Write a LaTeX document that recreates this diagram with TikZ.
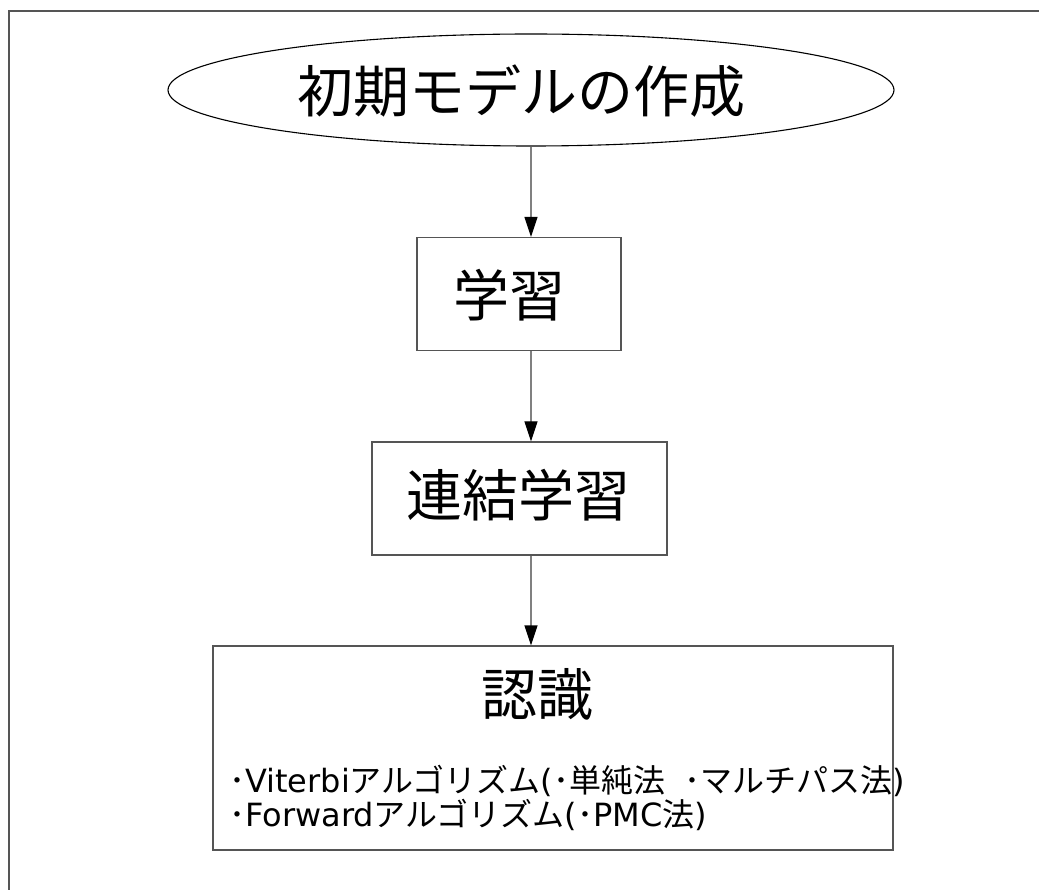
\documentclass[tikz,border=0pt]{standalone}
\usepackage{fontspec}
\setmainfont{DejaVu Sans}
\newfontfamily\jp{Noto Sans CJK JP}
\usetikzlibrary{shapes.geometric,arrows.meta}
\definecolor{linegray}{HTML}{808080}
\definecolor{boxgray}{HTML}{555555}
\tikzset{
  stepbox/.style={draw=boxgray, line width=1.2pt, rectangle, inner sep=0pt},
  bigtext/.style={font=\jp\fontsize{56}{60}\selectfont, inner sep=0pt},
  smalltext/.style={font=\fontsize{32}{36}\selectfont, inner sep=0pt, anchor=base west},
  arr/.style={draw=linegray, line width=1.2pt, -{Triangle[length=20pt,width=13pt,black]}},
}
\begin{document}
\begin{tikzpicture}[x=1pt,y=-1pt]
\useasboundingbox (0,0) rectangle (1039,890);
\begin{scope}
\clip (0,0) rectangle (1039,890);
\draw[draw=boxgray, line width=1.4pt] (9,11) rectangle (1080,930);
\end{scope}
% ellipse
\node[draw=black, line width=1.1pt, ellipse, minimum width=726pt, minimum height=112pt, inner sep=0pt] (init) at (531,90) {};
\node[bigtext] (initt) at (521,91) {初期モデルの作成};
% boxes
\node[stepbox, minimum width=204pt, minimum height=113pt] (learn) at (519,294) {};
\node[bigtext] (learnt) at (509,295) {学習};
\node[stepbox, minimum width=295pt, minimum height=113pt] (concat) at (519.5,498.5) {};
\node[bigtext] (concatt) at (518,495) {連結学習};
\node[stepbox, minimum width=680pt, minimum height=204pt] (recog) at (553,748) {};
\node[bigtext] (recogt) at (537,694) {認識};
\node[smalltext] (l1) at (229,792) {{\jp ･}Viterbi{\jp アルゴリズム}({\jp ･単純法\hspace{0.6em}･マルチパス法})};
\node[smalltext] (l2) at (229,826) {{\jp ･}Forward{\jp アルゴリズム}({\jp ･}PMC{\jp 法})};
% arrows
\draw[arr] (init.south) -- (init.south |- learn.north);
\draw[arr] (init.south |- learn.south) -- (init.south |- concat.north);
\draw[arr] (init.south |- concat.south) -- (init.south |- recog.north);
\end{tikzpicture}
\end{document}
